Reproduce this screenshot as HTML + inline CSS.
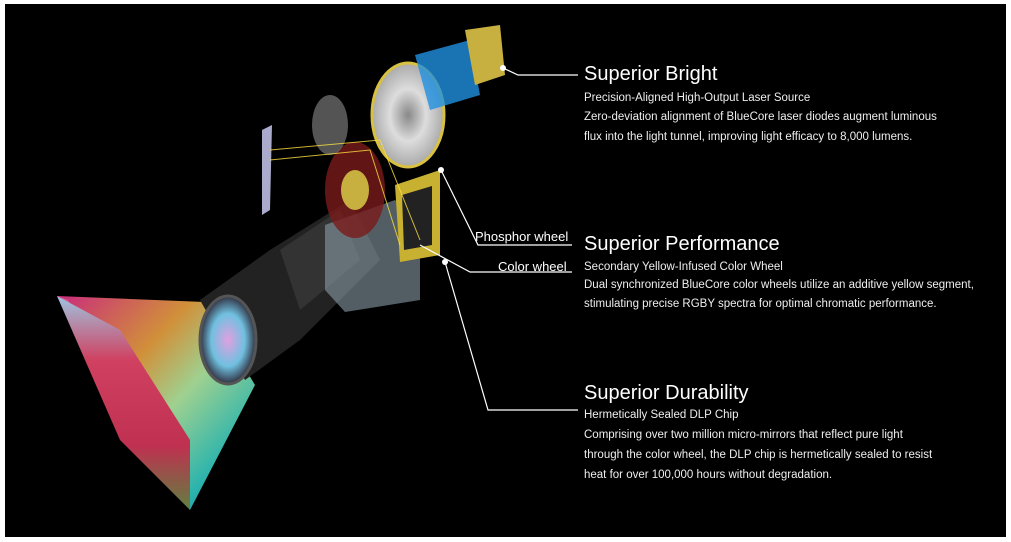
<!DOCTYPE html>
<html><head><meta charset="utf-8"><style>
html,body{margin:0;padding:0;background:#fff;}
#c{position:absolute;left:5px;top:4px;width:1001px;height:533px;background:#000;overflow:hidden;}
svg{position:absolute;left:0;top:0;}
.t{position:absolute;color:#fff;font-family:"Liberation Sans",sans-serif;white-space:nowrap;}
.h{font-size:20px;}
.s{font-size:11.5px;color:#eee;}
.l{font-size:13px;}
</style></head><body>
<div id="c">
<svg width="1011" height="542" viewBox="5 4 1011 542">
<defs>
<linearGradient id="cone" x1="0" y1="0" x2="1" y2="1">
<stop offset="0" stop-color="#e0308a"/><stop offset="0.35" stop-color="#e8a040"/><stop offset="0.55" stop-color="#b0e8a0"/><stop offset="0.8" stop-color="#30c8c0"/><stop offset="1" stop-color="#2080c0"/></linearGradient>
<linearGradient id="scr" x1="0" y1="0" x2="0" y2="1">
<stop offset="0" stop-color="#9ec4e0"/><stop offset="0.3" stop-color="#d04060"/><stop offset="0.7" stop-color="#c03050"/><stop offset="1" stop-color="#608040"/></linearGradient>
<radialGradient id="lens"><stop offset="0" stop-color="#e0a0e0"/><stop offset="0.6" stop-color="#70c0e0"/><stop offset="1" stop-color="#303040"/></radialGradient>
<radialGradient id="pw"><stop offset="0" stop-color="#888"/><stop offset="0.5" stop-color="#ddd"/><stop offset="1" stop-color="#aaa"/></radialGradient>
</defs>
<polygon points="57,296 205,302 255,385 190,510" fill="url(#cone)" opacity="0.9"/>
<polygon points="57,296 68,300 190,505 190,510" fill="#fff" opacity="0.2"/>
<polygon points="57,296 120,330 190,440 190,510 120,440" fill="url(#scr)"/>
<polygon points="200,300 270,250 350,200 380,260 300,340 245,380" fill="#222"/>
<polygon points="280,250 340,210 360,260 300,310" fill="#333"/>
<ellipse cx="228" cy="340" rx="28" ry="44" fill="url(#lens)" stroke="#555" stroke-width="3"/>
<polygon points="325,225 395,200 420,225 420,300 345,312 325,290" fill="#8a9ca6" opacity="0.6"/>
<polygon points="395,185 440,170 440,255 400,262" fill="#c8b030"/>
<polygon points="402,195 432,186 432,245 404,250" fill="#222"/>
<ellipse cx="355" cy="190" rx="30" ry="48" fill="#7a1a1a" opacity="0.8"/>
<ellipse cx="355" cy="190" rx="14" ry="20" fill="#c8b040"/>
<ellipse cx="408" cy="115" rx="36" ry="52" fill="url(#pw)" stroke="#d8c040" stroke-width="3"/>
<ellipse cx="330" cy="125" rx="18" ry="30" fill="#777" opacity="0.7"/>
<polygon points="262,130 272,125 270,210 262,215" fill="#aac"/>
<polygon points="415,55 470,40 480,95 430,110" fill="#2090e0" opacity="0.8"/>
<polygon points="465,30 500,25 505,75 475,85" fill="#c8b040"/>
<g stroke="#ffe040" stroke-width="1" fill="none" opacity="0.8"><polyline points="270,150 380,140 420,240"/><polyline points="270,160 370,150 400,245"/></g>
<g stroke="#fff" stroke-width="1.2" fill="none">
<polyline points="503,68 518,75 578,75"/>
<polyline points="441,170 478,245 572,245"/>
<polyline points="420,245 470,272 572,272"/>
<polyline points="445,262 488,410 578,410"/>
</g>
<circle cx="503" cy="68" r="3" fill="#fff"/><circle cx="441" cy="170" r="3" fill="#fff"/><circle cx="445" cy="262" r="3" fill="#fff"/>
</svg>
<div class="t h" style="left:579px;top:59px">Superior Bright</div>
<div class="t s" style="left:579px;top:88px">Precision-Aligned High-Output Laser Source</div>
<div class="t s" style="left:579px;top:107px">Zero-deviation alignment of BlueCore laser diodes augment luminous</div>
<div class="t s" style="left:579px;top:127px">flux into the light tunnel, improving light efficacy to 8,000 lumens.</div>
<div class="t l" style="left:470px;top:225px">Phosphor wheel</div>
<div class="t l" style="left:493px;top:255px">Color wheel</div>
<div class="t h" style="left:579px;top:229px">Superior Performance</div>
<div class="t s" style="left:579px;top:257px">Secondary Yellow-Infused Color Wheel</div>
<div class="t s" style="left:579px;top:275px">Dual synchronized BlueCore color wheels utilize an additive yellow segment,</div>
<div class="t s" style="left:579px;top:294px">stimulating precise RGBY spectra for optimal chromatic performance.</div>
<div class="t h" style="left:579px;top:378px">Superior Durability</div>
<div class="t s" style="left:579px;top:405px">Hermetically Sealed DLP Chip</div>
<div class="t s" style="left:579px;top:425px">Comprising over two million micro-mirrors that reflect pure light</div>
<div class="t s" style="left:579px;top:445px">through the color wheel, the DLP chip is hermetically sealed to resist</div>
<div class="t s" style="left:579px;top:465px">heat for over 100,000 hours without degradation.</div>
</div>
</body></html>
